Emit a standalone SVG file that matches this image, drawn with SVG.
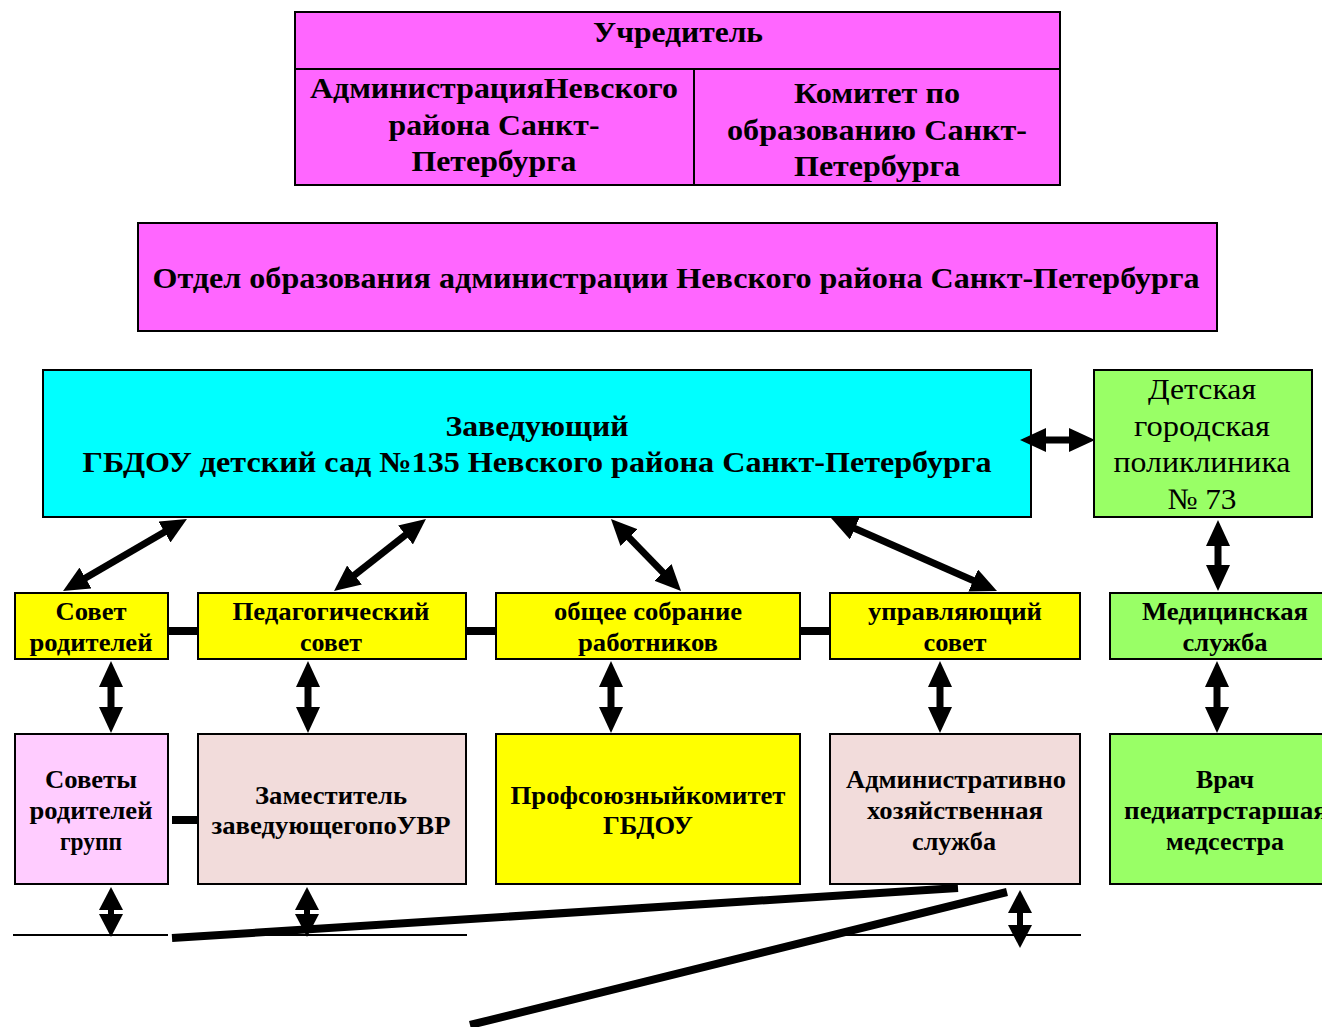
<svg xmlns="http://www.w3.org/2000/svg" width="1322" height="1027" viewBox="0 0 1322 1027">
<style>
.box{stroke:#000;stroke-width:2}
.mag{fill:#FF66FF}.cyan{fill:#00FFFF}.yel{fill:#FFFF00}.grn{fill:#99FF66}.pink{fill:#FFCCFF}.beige{fill:#F2DCDB}
text{font-family:"Liberation Serif","Times New Roman",serif;font-weight:bold;fill:#000;text-anchor:middle}
.t30{font-size:30px}.t29{font-size:29px}.t25{font-size:25px}
.reg{font-weight:normal;font-size:30px}
.arr{stroke:#000;stroke-width:7;fill:none;marker-start:url(#ah);marker-end:url(#ah)}
.arr2{stroke:#000;stroke-width:6;fill:none;marker-start:url(#ah2);marker-end:url(#ah2)}
.bar{stroke:#000;stroke-width:8}
.thick{stroke:#000;stroke-width:8;fill:none}
.thin{stroke:#000;stroke-width:2}
</style>
<defs>
<marker id="ah" markerUnits="userSpaceOnUse" markerWidth="26" markerHeight="24" refX="8" refY="12" orient="auto-start-reverse" viewBox="0 0 26 24">
<path d="M0,0 L26,12 L0,24 z" fill="#000"/>
</marker>
<marker id="ah2" markerUnits="userSpaceOnUse" markerWidth="23" markerHeight="24" refX="5" refY="12" orient="auto-start-reverse" viewBox="0 0 23 24">
<path d="M0,0 L23,12 L0,24 z" fill="#000"/>
</marker>
</defs>
<rect width="1322" height="1027" fill="#fff"/>

<g id="uchreditel">
<rect class="box mag" x="295" y="12" width="765" height="173"/>
<line class="thin" x1="295" y1="69" x2="1060" y2="69"/>
<line class="thin" x1="694" y1="69" x2="694" y2="185"/>
<text class="t30" x="678" y="42" textLength="170" lengthAdjust="spacingAndGlyphs">Учредитель</text>
<text class="t30" x="494" y="98" textLength="368" lengthAdjust="spacingAndGlyphs">АдминистрацияНевского</text>
<text class="t30" x="494" y="135" textLength="211" lengthAdjust="spacingAndGlyphs">района Санкт-</text>
<text class="t30" x="494" y="171" textLength="165" lengthAdjust="spacingAndGlyphs">Петербурга</text>
<text class="t30" x="877" y="103" textLength="166" lengthAdjust="spacingAndGlyphs">Комитет по</text>
<text class="t30" x="877" y="140" textLength="300" lengthAdjust="spacingAndGlyphs">образованию Санкт-</text>
<text class="t30" x="877" y="176" textLength="166" lengthAdjust="spacingAndGlyphs">Петербурга</text>
</g>

<g id="otdel">
<rect class="box mag" x="138" y="223" width="1079" height="108"/>
<text class="t30" x="676" y="288" textLength="1047" lengthAdjust="spacingAndGlyphs">Отдел образования администрации Невского района Санкт-Петербурга</text>
</g>

<g id="zaveduyushchiy">
<rect class="box cyan" x="43" y="370" width="988" height="147"/>
<text class="t29" x="537" y="436" textLength="183" lengthAdjust="spacingAndGlyphs">Заведующий</text>
<text class="t29" x="537" y="472" textLength="909" lengthAdjust="spacingAndGlyphs">ГБДОУ детский сад №135 Невского района Санкт-Петербурга</text>
</g>

<g id="poliklinika">
<rect class="box grn" x="1094" y="370" width="218" height="147"/>
<text class="reg" x="1202" y="399" textLength="108" lengthAdjust="spacingAndGlyphs">Детская</text>
<text class="reg" x="1202" y="436" textLength="136" lengthAdjust="spacingAndGlyphs">городская</text>
<text class="reg" x="1202" y="472" textLength="177" lengthAdjust="spacingAndGlyphs">поликлиника</text>
<text class="reg" x="1202" y="509" textLength="69" lengthAdjust="spacingAndGlyphs">№ 73</text>
</g>

<g id="sovet-roditeley">
<rect class="box yel" x="15" y="593" width="153" height="66"/>
<text class="t25" x="91" y="620" textLength="71" lengthAdjust="spacingAndGlyphs">Совет</text>
<text class="t25" x="91" y="651" textLength="123" lengthAdjust="spacingAndGlyphs">родителей</text>
</g>
<g id="ped-sovet">
<rect class="box yel" x="198" y="593" width="268" height="66"/>
<text class="t25" x="331" y="620" textLength="197" lengthAdjust="spacingAndGlyphs">Педагогический</text>
<text class="t25" x="331" y="651" textLength="62" lengthAdjust="spacingAndGlyphs">совет</text>
</g>
<g id="obshchee-sobranie">
<rect class="box yel" x="496" y="593" width="304" height="66"/>
<text class="t25" x="648" y="620" textLength="188" lengthAdjust="spacingAndGlyphs">общее собрание</text>
<text class="t25" x="648" y="651" textLength="140" lengthAdjust="spacingAndGlyphs">работников</text>
</g>
<g id="upr-sovet">
<rect class="box yel" x="830" y="593" width="250" height="66"/>
<text class="t25" x="955" y="620" textLength="174" lengthAdjust="spacingAndGlyphs">управляющий</text>
<text class="t25" x="955" y="651" textLength="63" lengthAdjust="spacingAndGlyphs">совет</text>
</g>
<g id="med-sluzhba">
<rect class="box grn" x="1110" y="593" width="220" height="66"/>
<text class="t25" x="1225" y="620" textLength="166" lengthAdjust="spacingAndGlyphs">Медицинская</text>
<text class="t25" x="1225" y="651" textLength="85" lengthAdjust="spacingAndGlyphs">служба</text>
</g>

<g id="sovety-grupp">
<rect class="box pink" x="15" y="734" width="153" height="150"/>
<text class="t25" x="91" y="788" textLength="92" lengthAdjust="spacingAndGlyphs">Советы</text>
<text class="t25" x="91" y="819" textLength="123" lengthAdjust="spacingAndGlyphs">родителей</text>
<text class="t25" x="91" y="850" textLength="62" lengthAdjust="spacingAndGlyphs">групп</text>
</g>
<g id="zamestitel">
<rect class="box beige" x="198" y="734" width="268" height="150"/>
<text class="t25" x="331" y="804" textLength="152" lengthAdjust="spacingAndGlyphs">Заместитель</text>
<text class="t25" x="331" y="834" textLength="239" lengthAdjust="spacingAndGlyphs">заведующегопоУВР</text>
</g>
<g id="profsoyuz">
<rect class="box yel" x="496" y="734" width="304" height="150"/>
<text class="t25" x="648" y="804" textLength="275" lengthAdjust="spacingAndGlyphs">Профсоюзныйкомитет</text>
<text class="t25" x="648" y="834" textLength="90" lengthAdjust="spacingAndGlyphs">ГБДОУ</text>
</g>
<g id="ahs">
<rect class="box beige" x="830" y="734" width="250" height="150"/>
<text class="t25" x="956" y="788" textLength="220" lengthAdjust="spacingAndGlyphs">Административно</text>
<text class="t25" x="955" y="819" textLength="176" lengthAdjust="spacingAndGlyphs">хозяйственная</text>
<text class="t25" x="954" y="850" textLength="84" lengthAdjust="spacingAndGlyphs">служба</text>
</g>
<g id="vrach">
<rect class="box grn" x="1110" y="734" width="220" height="150"/>
<text class="t25" x="1225" y="788" textLength="58" lengthAdjust="spacingAndGlyphs">Врач</text>
<text class="t25" x="1226" y="819" textLength="204" lengthAdjust="spacingAndGlyphs">педиатрстаршая</text>
<text class="t25" x="1225" y="850" textLength="118" lengthAdjust="spacingAndGlyphs">медсестра</text>
</g>

<g id="connectors">
<line class="arr" x1="1038" y1="440" x2="1077" y2="440"/>
<line class="arr" x1="1218" y1="538" x2="1218" y2="573"/>
<line class="arr" x1="171.4" y1="528" x2="78.6" y2="582"/>
<line class="arr" x1="411.8" y1="530.1" x2="348.2" y2="579.9"/>
<line class="arr" x1="623.5" y1="531.9" x2="668.5" y2="578.1"/>
<line class="arr" x1="847.5" y1="525.3" x2="980.5" y2="583.7"/>
<line class="bar" x1="168" y1="631" x2="198" y2="631"/>
<line class="bar" x1="466" y1="631" x2="496" y2="631"/>
<line class="bar" x1="800" y1="631" x2="830" y2="631"/>
<line class="arr" x1="111" y1="679" x2="111" y2="715"/>
<line class="arr" x1="308" y1="679" x2="308" y2="715"/>
<line class="arr" x1="611" y1="679" x2="611" y2="715"/>
<line class="arr" x1="940" y1="679" x2="940" y2="715"/>
<line class="arr" x1="1217" y1="679" x2="1217" y2="715"/>
<line class="bar" x1="172" y1="820" x2="198" y2="820"/>
<line class="arr2" x1="111" y1="905" x2="111" y2="919"/>
<line class="arr2" x1="307" y1="905" x2="307" y2="919"/>
<line class="arr2" x1="1020" y1="908" x2="1020" y2="930"/>
<line class="thin" x1="13" y1="935" x2="168" y2="935"/>
<line class="thin" x1="172" y1="935" x2="467" y2="935"/>
<line class="thin" x1="845" y1="935" x2="1081" y2="935"/>
<line class="thick" x1="958" y1="888" x2="172" y2="938"/>
<line class="thick" x1="1007" y1="892" x2="470" y2="1025"/>
</g>
</svg>
